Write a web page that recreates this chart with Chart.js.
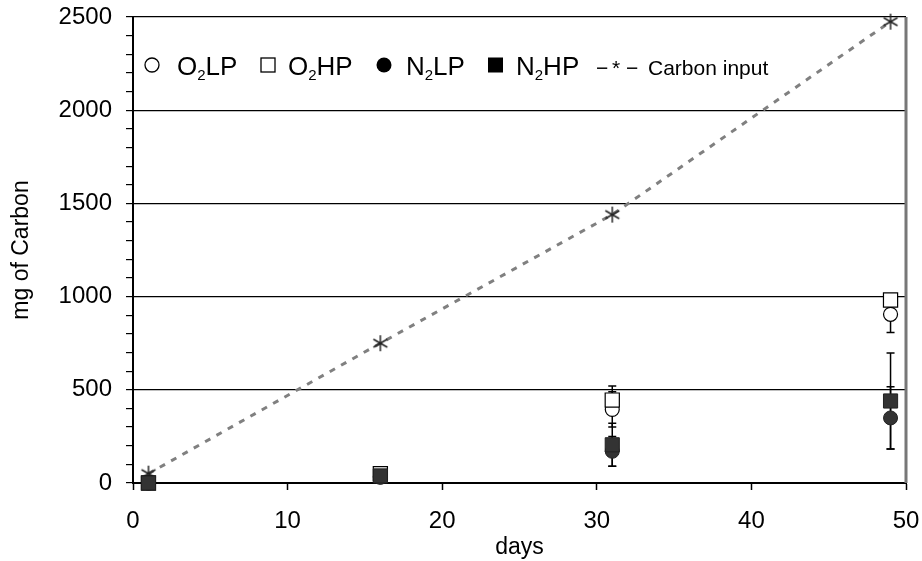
<!DOCTYPE html>
<html>
<head>
<meta charset="utf-8">
<script src="https://cdn.jsdelivr.net/npm/chart.js@4.4.0/dist/chart.umd.min.js"></script>
<style>
  body { margin: 0; background: #fff; }
</style>
</head>
<body>
<canvas id="chart" width="922" height="561"></canvas>
<script>
// data
const days = [1, 16, 31, 49];
const carbonInput = [50, 750, 1440, 2475];
const o2LP = [0, 35, 395, 905];
const o2HP = [0, 50, 445, 982];
const n2LP = [0, 30, 170, 349];
const n2HP = [0, 38, 205, 440];
const errO2LP = [0, 0, 95, 97];
const errO2HP = [0, 0, 75, 20];
const errN2LP = [0, 0, 80, 167];
const errN2HP = [0, 0, 115, 257];
const xTicks = [0, 10, 20, 30, 40, 50];
const yTicks = [0, 500, 1000, 1500, 2000, 2500];

const pts = arr => days.map((d, i) => ({ x: d, y: arr[i] }));

Chart.defaults.font.family = '"Liberation Sans", Arial, sans-serif';
Chart.defaults.color = '#000';

// asterisk marker for carbon input
const star = document.createElement('canvas');
star.width = 18; star.height = 18;
const sc = star.getContext('2d');
sc.strokeStyle = '#222';
sc.lineWidth = 1.5;
[90, 30, 150].forEach(a => {
  const r = a * Math.PI / 180;
  sc.beginPath();
  sc.moveTo(9 - 8 * Math.cos(r), 9 - 8 * Math.sin(r));
  sc.lineTo(9 + 8 * Math.cos(r), 9 + 8 * Math.sin(r));
  sc.stroke();
});

const errorBars = {
  id: 'errorBars',
  beforeDatasetsDraw(chart) {
    const { ctx, scales: { x, y } } = chart;
    ctx.save();
    ctx.strokeStyle = '#000';
    ctx.lineWidth = 1.5;
    chart.data.datasets.forEach(ds => {
      if (!ds.errors) return;
      ds.data.forEach((p, i) => {
        const e = ds.errors[i];
        if (!e) return;
        const px = x.getPixelForValue(p.x);
        const top = y.getPixelForValue(p.y + e);
        const bot = y.getPixelForValue(p.y - e);
        ctx.beginPath();
        ctx.moveTo(px, top); ctx.lineTo(px, bot);
        ctx.moveTo(px - 4, top); ctx.lineTo(px + 4, top);
        ctx.moveTo(px - 4, bot); ctx.lineTo(px + 4, bot);
        ctx.stroke();
      });
    });
    ctx.restore();
  }
};

const frame = {
  id: 'frame',
  afterDraw(chart) {
    const { ctx, chartArea: a } = chart;
    ctx.save();
    ctx.strokeStyle = '#777';
    ctx.lineWidth = 3;
    ctx.beginPath();
    ctx.moveTo(a.right, a.top);
    ctx.lineTo(a.right, a.bottom);
    ctx.stroke();
    ctx.restore();
  }
};

function subText(ctx, x, y, main, sub, rest) {
  ctx.font = '26px "Liberation Sans", Arial, sans-serif';
  ctx.fillText(main, x, y);
  x += ctx.measureText(main).width;
  ctx.font = '15px "Liberation Sans", Arial, sans-serif';
  ctx.fillText(sub, x, y + 5);
  x += ctx.measureText(sub).width;
  ctx.font = '26px "Liberation Sans", Arial, sans-serif';
  ctx.fillText(rest, x, y);
}

const legendBox = {
  id: 'legendBox',
  afterDraw(chart) {
    const ctx = chart.ctx;
    const cy = 65, base = 75;
    ctx.save();
    ctx.fillStyle = '#000';
    ctx.strokeStyle = '#000';
    ctx.lineWidth = 1.3;
    ctx.textBaseline = 'alphabetic';
    ctx.textAlign = 'left';
    ctx.beginPath(); ctx.arc(152, cy, 7, 0, Math.PI * 2); ctx.stroke();
    subText(ctx, 177, base, 'O', '2', 'LP');
    ctx.strokeRect(261, cy - 7, 14, 14);
    subText(ctx, 288, base, 'O', '2', 'HP');
    ctx.beginPath(); ctx.arc(384, cy, 7.5, 0, Math.PI * 2); ctx.fill();
    subText(ctx, 406, base, 'N', '2', 'LP');
    ctx.fillRect(488, cy - 7.5, 15, 15);
    subText(ctx, 516, base, 'N', '2', 'HP');
    ctx.font = '21px "Liberation Sans", Arial, sans-serif';
    ctx.fillText('−', 596, base);
    ctx.fillText('*', 612, base);
    ctx.fillText('−', 626, base);
    ctx.fillText('Carbon input', 648, base);
    ctx.restore();
  }
};

new Chart(document.getElementById('chart'), {
  type: 'scatter',
  data: {
    datasets: [
      { label: 'N2HP', data: pts(n2HP), errors: errN2HP, pointStyle: 'rect', pointRadius: 10,
        backgroundColor: '#333', borderColor: '#222', borderWidth: 1, order: 1, clip: false },
      { label: 'N2LP', data: pts(n2LP), errors: errN2LP, pointStyle: 'circle', pointRadius: 7,
        backgroundColor: '#333', borderColor: '#222', borderWidth: 1, order: 2, clip: false },
      { label: 'O2HP', data: pts(o2HP), errors: errO2HP, pointStyle: 'rect', pointRadius: 10,
        backgroundColor: '#fff', borderColor: '#000', borderWidth: 1.2, order: 3, clip: false },
      { label: 'O2LP', data: pts(o2LP), errors: errO2LP, pointStyle: 'circle', pointRadius: 7,
        backgroundColor: '#fff', borderColor: '#000', borderWidth: 1.2, order: 4, clip: false },
      { label: 'Carbon input', data: pts(carbonInput), showLine: true, borderColor: '#808080',
        borderWidth: 3, borderDash: [6, 7], pointStyle: star, pointRadius: 8, order: 5, clip: false }
    ]
  },
  options: {
    responsive: false,
    animation: false,
    layout: { padding: { left: 0, top: 17, right: 16, bottom: 0 } },
    plugins: { legend: { display: false }, tooltip: { enabled: false } },
    scales: {
      x: {
        type: 'linear', min: 0, max: 50,
        afterBuildTicks: s => { s.ticks = xTicks.map(v => ({ value: v })); },
        afterFit: s => { s.height = 78; s.paddingLeft = 0; s.paddingRight = 0; },
        grid: { drawOnChartArea: false, tickLength: 7, tickColor: '#000', tickWidth: 1.5 },
        border: { color: '#000', width: 2 },
        ticks: { padding: 17, font: { size: 24 }, color: '#000', maxRotation: 0 },
        title: { display: true, text: 'days', font: { size: 23 }, padding: 0, color: '#000' }
      },
      y: {
        min: 0, max: 2500,
        afterFit: s => { s.width = 133; s.paddingTop = 0; s.paddingBottom = 0; },
        ticks: {
          stepSize: 100, autoSkip: false, padding: 14, font: { size: 24 }, color: '#000',
          callback: v => yTicks.includes(Math.round(v)) ? Math.round(v) : ''
        },
        grid: {
          color: c => (c.tick && Math.round(c.tick.value) % 500 === 0 && c.tick.value > 0) ? '#000' : 'rgba(0,0,0,0)',
          tickColor: '#000', tickLength: 7, lineWidth: 1.2
        },
        border: { color: '#000', width: 2 },
        title: { display: true, text: 'mg of Carbon', font: { size: 23 }, padding: 8, color: '#000' }
      }
    }
  },
  plugins: [errorBars, frame, legendBox]
});
</script>
</body>
</html>
